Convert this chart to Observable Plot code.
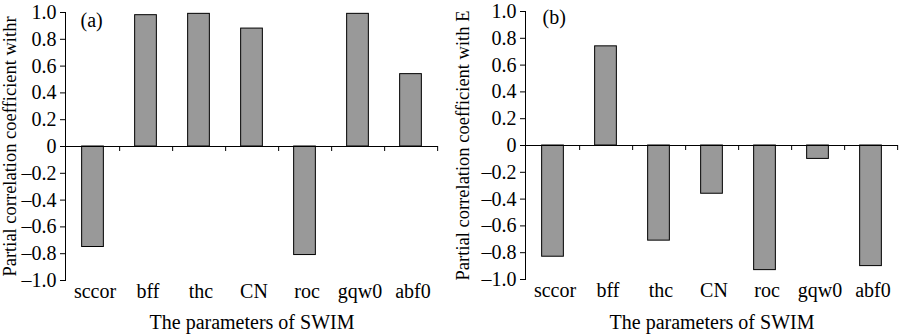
<!DOCTYPE html>
<html><head><meta charset="utf-8">
<script src="https://cdn.jsdelivr.net/npm/d3@7"></script>
<script src="https://cdn.jsdelivr.net/npm/@observablehq/plot@0.6"></script>
<style>
body{margin:0;background:#fff}
#wrap{display:flex;width:900px;height:335px;overflow:hidden}
#wrap svg{display:block;flex:none}
#wrap svg, #wrap svg text{font-family:"Liberation Serif","Times New Roman",serif !important}
</style>
</head><body><div id="wrap"></div>
<script>
const params = ["sccor","bff","thc","CN","roc","gqw0","abf0"];
const corrR = [-0.75, 0.98, 0.99, 0.88, -0.81, 0.99, 0.54];
const corrE = [-0.83, 0.74, -0.71, -0.36, -0.93, -0.10, -0.90];
const yTicks = [-1, -0.8, -0.6, -0.4, -0.2, 0, 0.2, 0.4, 0.6, 0.8, 1];
const panelLabels = ["(a)", "(b)"];
const yTitles = ["Partial correlation coefficient withr", "Partial correlation coefficient with E"];
const xTitle = "The parameters of SWIM";

const fmt = d => d === 0 ? "0" : (d < 0 ? "\u2013" : "") + d3.format(".1f")(Math.abs(d));

function panel(values, label, yTitle, m) {
  const W = 450, H = 335;
  const bw = (W - m.left - m.right) / params.length;
  const unit = (H - m.top - m.bottom) / 2;
  const data = params.map((p, i) => ({p, v: values[i]}));
  return Plot.plot({
    width: W, height: H,
    marginLeft: m.left, marginRight: m.right, marginTop: m.top, marginBottom: m.bottom,
    style: {fontFamily: "Liberation Serif, serif", fontSize: "20px", color: "#000", background: "#fff"},
    x: {domain: params, padding: 0},
    y: {domain: [-1, 1]},
    marks: [
      Plot.axisY({ticks: yTicks, tickFormat: fmt, tickSize: 5, tickPadding: 4, fontSize: 20, label: null}),
      Plot.axisY({ticks: [], fontSize: 18.5, label: yTitle, labelAnchor: "center", labelArrow: "none", labelOffset: m.yLabelOffset, dy: -4}),
      Plot.frame({anchor: "left", stroke: "#000"}),
      Plot.axisX({tickSize: 0, tickPadding: 3, dx: 2, fontSize: 20, label: xTitle, labelAnchor: "center", labelOffset: m.bottom - 7}),
      Plot.barY(data, {x: "p", y: "v", fill: "#999999", stroke: "#000", strokeWidth: 1, insetLeft: (bw - 22) / 2, insetRight: (bw - 22) / 2}),
      Plot.ruleY([0], {stroke: "#000"}),
      Plot.ruleX(params, {x: d => d, y1: 0, y2: -5 / unit, dx: bw / 2, stroke: "#000"}),
      Plot.text([label], {frameAnchor: "top-left", dx: m.labelDx, dy: m.labelDy, text: d => d, fontSize: 20})
    ]
  });
}

const wrap = document.getElementById("wrap");
wrap.append(panel(corrR, panelLabels[0], yTitles[0], {left: 65, right: 12, top: 12, bottom: 55, labelDx: 15, labelDy: 0, yLabelOffset: 63}));
wrap.append(panel(corrE, panelLabels[1], yTitles[1], {left: 75, right: 2, top: 11, bottom: 56, labelDx: 17, labelDy: -2, yLabelOffset: 70}));
</script>
</body></html>
